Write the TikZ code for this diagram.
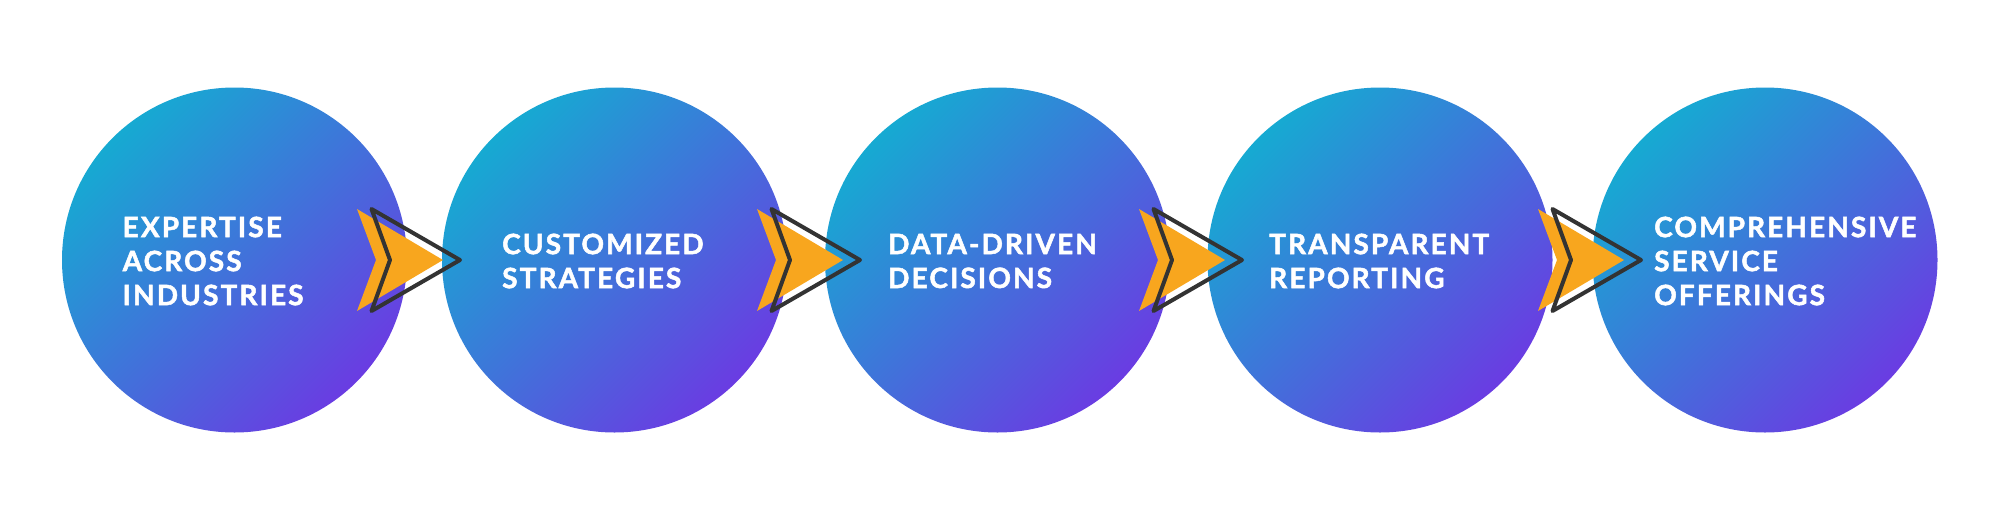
\documentclass[tikz,border=0pt]{standalone}
\usepackage{fontspec}
\setmainfont{Lato}[BoldFeatures={FakeBold=1.8,LetterSpace=7.5}]
\definecolor{cyanT}{RGB}{22,170,210}
\definecolor{blueM}{RGB}{56,126,220}
\definecolor{purpB}{RGB}{106,60,226}
\definecolor{arrOr}{RGB}{248,166,30}
\definecolor{arrDk}{RGB}{51,51,51}
\tikzset{
  bubble/.style={circle, minimum size=345pt, inner sep=0pt, top color=cyanT, middle color=blueM, bottom color=purpB, shading angle=45},
  lbl/.style={anchor=west, inner sep=0pt, align=left, text=white, font=\fontsize{28}{34}\selectfont\bfseries},
  chevfill/.style={fill=arrOr},
  chevline/.style={draw=arrDk, line width=4pt, line join=round, line cap=round}
}
\newcommand{\chev}[1]{%
  \fill[chevfill] (#1) ++(0,-51) -- ++(86,51) -- ++(-86,51) -- ++(19,-51) -- cycle;
  \draw[chevline] (#1) ++(14.5,-51) -- ++(88.5,51) -- ++(-88.5,51) -- ++(18.5,-51) -- cycle;
}
\begin{document}
\begin{tikzpicture}[x=1pt,y=-1pt]
\useasboundingbox (0,0) rectangle (2000,523);
\node[bubble] (c1) at (234.5,260) {};
\node[bubble] (c2) at (614.5,260) {};
\node[bubble] (c3) at (997.5,260) {};
\node[bubble] (c4) at (1380,260) {};
\node[bubble] (c5) at (1765,260) {};
\node[lbl] (t1) at (122.5,261) {EXPERTISE\\ACROSS\\INDUSTRIES};
\node[lbl] (t2) at (502,261) {CUSTOMIZED\\STRATEGIES};
\node[lbl] (t3) at (888,261) {DATA-DRIVEN\\DECISIONS};
\node[lbl] (t4) at (1269,261) {TRANSPARENT\\REPORTING};
\node[lbl] (t5) at (1654,261) {COMPREHENSIVE\\SERVICE\\OFFERINGS};
\coordinate (a1) at (357,260);
\coordinate (a2) at (757,260);
\coordinate (a3) at (1139,260);
\coordinate (a4) at (1538,260);
\chev{a1}
\chev{a2}
\chev{a3}
\chev{a4}
\end{tikzpicture}
\end{document}
